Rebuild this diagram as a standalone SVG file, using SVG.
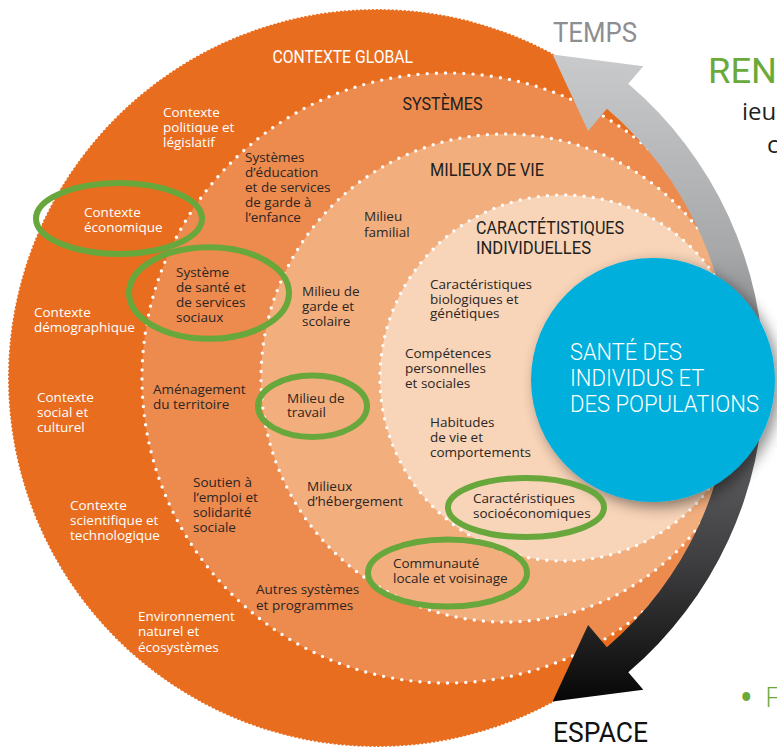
<svg xmlns="http://www.w3.org/2000/svg" width="777" height="748" viewBox="0 0 777 748">
  <defs>
    <linearGradient id="arrowGrad" gradientUnits="userSpaceOnUse" x1="0" y1="55" x2="0" y2="705">
      <stop offset="0" stop-color="#c9cacc"/>
      <stop offset="0.3" stop-color="#a7a8aa"/>
      <stop offset="0.55" stop-color="#6a6a6c"/>
      <stop offset="0.78" stop-color="#3e3e40"/>
      <stop offset="1" stop-color="#050505"/>
    </linearGradient>
    <filter id="softShadow" x="-20%" y="-20%" width="150%" height="150%">
      <feDropShadow dx="5" dy="5" stdDeviation="7" flood-color="#000" flood-opacity="0.45"/>
    </filter>
  </defs>
  <style>
    .lbl { font-family: "Open Sans", "Liberation Sans", sans-serif; font-size: 13.5px; fill: #2b2623; }
    .hd { font-family: Roboto, "Liberation Sans", sans-serif; font-size: 18px; fill: #231f20; }
    .w { fill: #ffffff; }
    .dots { fill: none; stroke: #ffffff; stroke-width: 3.4; stroke-linecap: round; stroke-dasharray: 0 9.2; }
    .hl { fill: none; stroke: #68a73c; stroke-width: 6; }
  </style>

  <!-- nested rings -->
  <g id="rings">
    <g id="ring-contexte-global">
      <circle cx="377" cy="378" r="369" fill="#e86d1f"/>
      <circle cx="377" cy="378" r="369" fill="none" stroke="#ffffff" stroke-width="2" stroke-linecap="round" stroke-dasharray="0 4"/>
    </g>
    <g id="ring-systemes">
      <circle cx="447" cy="378" r="305" fill="#ed8a4e"/>
      <circle class="dots" cx="447" cy="378" r="305"/>
    </g>
    <g id="ring-milieux">
      <circle cx="505" cy="378" r="244" fill="#f3ae7d"/>
      <circle class="dots" cx="505" cy="378" r="244"/>
    </g>
    <g id="ring-caracteristiques">
      <circle cx="563" cy="378" r="183" fill="#f8d4b8"/>
      <circle class="dots" cx="563" cy="378" r="183"/>
    </g>
  </g>

  <!-- time / space arrow around the rings -->
  <g id="connectors">
    <path id="arrow-temps-espace" fill="url(#arrowGrad)"
          d="M 628.3 83.7 A 387 387 0 0 1 628.3 672.3 L 643.3 689.8 L 552.6 701.4 L 588.1 625.1 L 606.9 647.2 A 354 354 0 0 0 606.9 108.8 L 588.1 130.9 L 552.6 54.6 L 643.3 66.2 Z"/>
  </g>

  <!-- centre node -->
  <g id="node-sante">
    <circle cx="653" cy="380" r="122" fill="#03afdb" filter="url(#softShadow)"/>
    <text font-family="Roboto, 'Liberation Sans', sans-serif" font-weight="300" font-size="24" fill="#ffffff">
      <tspan x="570" y="360" textLength="112" lengthAdjust="spacingAndGlyphs">SANTÉ DES</tspan>
      <tspan x="570" y="386" textLength="134" lengthAdjust="spacingAndGlyphs">INDIVIDUS ET</tspan>
      <tspan x="570" y="412" textLength="189" lengthAdjust="spacingAndGlyphs">DES POPULATIONS</tspan>
    </text>
  </g>

  <!-- axis labels -->
  <g id="label-temps">
    <text x="553" y="42" font-family="Roboto, 'Liberation Sans', sans-serif" font-size="28" fill="#8d8e91" textLength="84" lengthAdjust="spacingAndGlyphs">TEMPS</text>
  </g>
  <g id="label-espace">
    <text x="553" y="742" font-family="Roboto, 'Liberation Sans', sans-serif" font-size="28" fill="#111111" textLength="95" lengthAdjust="spacingAndGlyphs">ESPACE</text>
  </g>

  <!-- ring headings -->
  <g id="title-contexte-global">
    <text class="hd w" x="272.5" y="63" font-size="18.5" textLength="140.5" lengthAdjust="spacingAndGlyphs">CONTEXTE GLOBAL</text>
  </g>
  <g id="title-systemes">
    <text class="hd" x="402.5" y="110" textLength="80" lengthAdjust="spacingAndGlyphs">SYSTÈMES</text>
  </g>
  <g id="title-milieux">
    <text class="hd" x="430" y="176" textLength="114" lengthAdjust="spacingAndGlyphs">MILIEUX DE VIE</text>
  </g>
  <g id="title-caracteristiques">
    <text class="hd">
      <tspan x="476" y="234" textLength="148" lengthAdjust="spacingAndGlyphs">CARACTÉTISTIQUES</tspan>
      <tspan x="476" y="254" textLength="115" lengthAdjust="spacingAndGlyphs">INDIVIDUELLES</tspan>
    </text>
  </g>

  <!-- global context items -->
  <g id="ctx-politique">
    <text class="lbl w"><tspan x="163" y="117">Contexte</tspan><tspan x="163" y="132">politique et</tspan><tspan x="163" y="147">législatif</tspan></text>
  </g>
  <g id="ctx-economique">
    <text class="lbl w"><tspan x="84" y="217">Contexte</tspan><tspan x="84" y="232">économique</tspan></text>
  </g>
  <g id="ctx-demographique">
    <text class="lbl w"><tspan x="34" y="317">Contexte</tspan><tspan x="34" y="332">démographique</tspan></text>
  </g>
  <g id="ctx-social">
    <text class="lbl w"><tspan x="37" y="402">Contexte</tspan><tspan x="37" y="417">social et</tspan><tspan x="37" y="432">culturel</tspan></text>
  </g>
  <g id="ctx-scientifique">
    <text class="lbl w"><tspan x="70" y="510">Contexte</tspan><tspan x="70" y="525">scientifique et</tspan><tspan x="70" y="540">technologique</tspan></text>
  </g>
  <g id="ctx-environnement">
    <text class="lbl w"><tspan x="138" y="621">Environnement</tspan><tspan x="138" y="636">naturel et</tspan><tspan x="138" y="652">écosystèmes</tspan></text>
  </g>

  <!-- systems items -->
  <g id="sys-education">
    <text class="lbl"><tspan x="245" y="162">Systèmes</tspan><tspan x="245" y="177">d’éducation</tspan><tspan x="245" y="192">et de services</tspan><tspan x="245" y="207">de garde à</tspan><tspan x="245" y="222">l’enfance</tspan></text>
  </g>
  <g id="sys-sante">
    <text class="lbl"><tspan x="176" y="277">Système</tspan><tspan x="176" y="292">de santé et</tspan><tspan x="176" y="307">de services</tspan><tspan x="176" y="322">sociaux</tspan></text>
  </g>
  <g id="sys-amenagement">
    <text class="lbl"><tspan x="153" y="394">Aménagement</tspan><tspan x="153" y="409">du territoire</tspan></text>
  </g>
  <g id="sys-emploi">
    <text class="lbl"><tspan x="193" y="487">Soutien à</tspan><tspan x="193" y="502">l’emploi et</tspan><tspan x="193" y="517">solidarité</tspan><tspan x="193" y="532">sociale</tspan></text>
  </g>
  <g id="sys-autres">
    <text class="lbl"><tspan x="256" y="594">Autres systèmes</tspan><tspan x="256" y="610">et programmes</tspan></text>
  </g>

  <!-- living environments -->
  <g id="mil-familial">
    <text class="lbl"><tspan x="364" y="221">Milieu</tspan><tspan x="364" y="237">familial</tspan></text>
  </g>
  <g id="mil-garde">
    <text class="lbl"><tspan x="302" y="296">Milieu de</tspan><tspan x="302" y="311">garde et</tspan><tspan x="302" y="326">scolaire</tspan></text>
  </g>
  <g id="mil-travail">
    <text class="lbl"><tspan x="287" y="403">Milieu de</tspan><tspan x="287" y="417">travail</tspan></text>
  </g>
  <g id="mil-hebergement">
    <text class="lbl"><tspan x="307" y="491">Milieux</tspan><tspan x="307" y="506">d’hébergement</tspan></text>
  </g>
  <g id="mil-communaute">
    <text class="lbl"><tspan x="393" y="568">Communauté</tspan><tspan x="393" y="583">locale et voisinage</tspan></text>
  </g>

  <!-- individual characteristics -->
  <g id="ind-biologiques">
    <text class="lbl"><tspan x="430" y="289">Caractéristiques</tspan><tspan x="430" y="304">biologiques et</tspan><tspan x="430" y="318">génétiques</tspan></text>
  </g>
  <g id="ind-competences">
    <text class="lbl"><tspan x="405" y="358">Compétences</tspan><tspan x="405" y="373">personnelles</tspan><tspan x="405" y="388">et sociales</tspan></text>
  </g>
  <g id="ind-habitudes">
    <text class="lbl"><tspan x="430" y="427">Habitudes</tspan><tspan x="430" y="442">de vie et</tspan><tspan x="430" y="457">comportements</tspan></text>
  </g>
  <g id="ind-socioeconomiques">
    <text class="lbl"><tspan x="473" y="503">Caractéristiques</tspan><tspan x="473" y="518">socioéconomiques</tspan></text>
  </g>

  <!-- highlight rings -->
  <g id="highlights">
    <ellipse class="hl" cx="119" cy="218.5" rx="83" ry="35.5"/>
    <ellipse class="hl" cx="209" cy="293" rx="80" ry="45.8"/>
    <ellipse class="hl" cx="312.5" cy="406.3" rx="54.5" ry="30.7"/>
    <ellipse class="hl" cx="526" cy="507.5" rx="78" ry="29.5"/>
    <ellipse class="hl" cx="447.5" cy="573" rx="79.5" ry="33.5"/>
  </g>

  <!-- side text -->
  <g id="side-text">
    <text x="708" y="83" font-family="Roboto, 'Liberation Sans', sans-serif" font-size="35" fill="#6aaa3a" textLength="69" lengthAdjust="spacingAndGlyphs">REN</text>
    <text x="742" y="120" font-family="'Open Sans', 'Liberation Sans', sans-serif" font-size="24" fill="#231f20">ieu</text>
    <text x="767" y="153" font-family="'Open Sans', 'Liberation Sans', sans-serif" font-size="24" fill="#231f20">c</text>
    <text y="707" font-family="'Open Sans', 'Liberation Sans', sans-serif" font-weight="300" font-size="28" fill="#6aaa3a"><tspan x="741" font-weight="700">•</tspan><tspan x="765">F</tspan></text>
  </g>
</svg>
